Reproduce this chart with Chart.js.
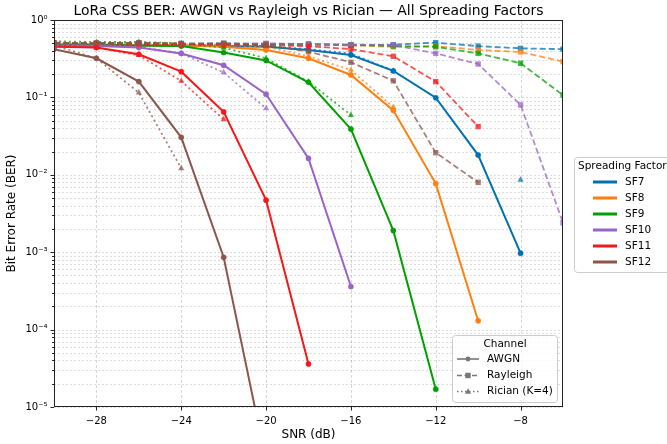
<!DOCTYPE html>
<html><head><meta charset="utf-8">
<script src="https://cdn.jsdelivr.net/npm/chart.js@4.4.1/dist/chart.umd.min.js"></script>
<style>html,body{margin:0;padding:0;background:#fff;} #wrap{width:667px;height:444px;position:relative;}</style>
</head><body><div id="wrap"><canvas id="c" width="667" height="444"></canvas></div>
<script>
// ---- data ----
const snr = [-30,-28,-26,-24,-22,-20,-18,-16,-14,-12,-10,-8,-6];
const sfNames = ['SF7','SF8','SF9','SF10','SF11','SF12'];
const channelNames = ['AWGN','Rayleigh','Rician (K=4)'];
const xTickValues = [-28,-24,-20,-16,-12,-8];
const yDecades = [-5,-4,-3,-2,-1,0];

const awgnSF7  = [0.48,0.48,0.47,0.47,0.46,0.45,0.41,0.353,0.22,0.099,0.018,0.00097,null];
const awgnSF8  = [0.48,0.48,0.47,0.47,0.45,0.41,0.32,0.195,0.068,0.0077,0.00013,null,null];
const awgnSF9  = [0.48,0.48,0.47,0.46,0.38,0.30,0.157,0.039,0.0019,0.000017,null,null,null];
const awgnSF10 = [0.47,0.46,0.44,0.37,0.26,0.11,0.0163,0.00036,null,null,null,null,null];
const awgnSF11 = [0.45,0.44,0.36,0.215,0.065,0.0047,0.000036,null,null,null,null,null,null];
const awgnSF12 = [0.42,0.32,0.16,0.0305,0.00086,0.000002,null,null,null,null,null,null,null];

const rayleighSF7  = [0.49,0.50,0.50,0.49,0.50,0.49,0.49,0.47,0.48,0.51,0.46,0.43,0.42];
const rayleighSF8  = [0.50,0.49,0.49,0.49,0.48,0.49,0.48,0.47,0.45,0.46,0.41,0.386,0.29];
const rayleighSF9  = [0.51,0.50,0.50,0.49,0.49,0.49,0.48,0.48,0.46,0.45,0.37,0.276,0.107];
const rayleighSF10 = [0.49,0.49,0.50,0.49,0.49,0.50,0.49,0.48,0.475,0.37,0.27,0.08,0.0024];
const rayleighSF11 = [0.50,0.50,0.49,0.48,0.48,0.47,0.46,0.42,0.34,0.16,0.042,null,null];
const rayleighSF12 = [0.50,0.50,0.51,0.50,0.50,0.475,0.39,0.284,0.164,0.0193,0.008,null,null];

const ricianSF7  = [0.50,0.49,0.48,0.48,0.47,0.46,0.42,0.37,0.22,null,null,0.0086,null];
const ricianSF8  = [0.50,0.49,0.48,0.48,0.47,0.45,0.34,0.226,0.075,null,null,null,null];
const ricianSF9  = [0.53,0.52,0.52,0.50,0.44,0.32,0.16,0.059,null,null,null,null,null];
const ricianSF10 = [0.50,0.49,0.45,0.37,0.21,0.072,null,null,null,null,null,null,null];
const ricianSF11 = [0.47,0.44,0.35,0.163,0.052,null,null,null,null,null,null,null,null];
const ricianSF12 = [0.47,0.32,0.115,0.0121,null,null,null,null,null,null,null,null,null];

// ---- styling ----
const FONT = '"DejaVu Sans", sans-serif';
const sfColors = ['#0072B2','#FF7F0E','#00A000','#9B62C8','#F51818','#8C564B'];
function rgba(hex,a){const n=parseInt(hex.slice(1),16);return `rgba(${n>>16&255},${n>>8&255},${n&255},${a})`;}

const awgnAll = [awgnSF7,awgnSF8,awgnSF9,awgnSF10,awgnSF11,awgnSF12];
const rayAll  = [rayleighSF7,rayleighSF8,rayleighSF9,rayleighSF10,rayleighSF11,rayleighSF12];
const ricAll  = [ricianSF7,ricianSF8,ricianSF9,ricianSF10,ricianSF11,ricianSF12];

function pts(arr){return snr.map((x,i)=>({x:x,y:arr[i]}));}

const datasets = [];
let k = 0;
sfNames.forEach((name,i)=>{
  const c = sfColors[i];
  datasets.push({label:name+' AWGN',data:pts(awgnAll[i]),borderColor:c,backgroundColor:c,borderWidth:2,
    pointStyle:'circle',pointRadius:2.6,pointBorderWidth:0.5,pointBorderColor:c,pointBackgroundColor:c,order:-(k++)});
  const cd = rgba(c,0.75);
  datasets.push({label:name+' Rayleigh',data:pts(rayAll[i]),borderColor:cd,backgroundColor:cd,borderWidth:1.8,borderDash:[6,3],
    pointStyle:'rect',pointRadius:3.8,pointBorderWidth:0,pointBackgroundColor:cd,order:-(k++)});
  const cr = rgba(c,0.75);
  datasets.push({label:name+' Rician',data:pts(ricAll[i]),borderColor:cr,backgroundColor:cr,borderWidth:1.8,borderDash:[2,3],
    pointStyle:'triangle',pointRadius:3.6,pointBorderWidth:0,pointBackgroundColor:cr,order:-(k++)});
});

const SUP = {'0':'⁰','1':'¹','2':'²','3':'³','4':'⁴','5':'⁵','6':'⁶','7':'⁷','8':'⁸','9':'⁹','-':'⁻'};
function supStr(n){return String(n).split('').map(ch=>SUP[ch]).join('');}

const deco = {
  id:'deco',
  beforeDatasetsDraw(chart){
    const {ctx, chartArea:a, scales:{x,y}} = chart;
    ctx.save();
    ctx.lineWidth = 0.8;
    ctx.strokeStyle = 'rgba(0,0,0,0.17)';
    ctx.setLineDash([2,2]);
    yDecades.forEach(e=>{
      for(let m=1;m<=9;m++){
        const v = m*Math.pow(10,e);
        if (v>1.0000001) break;
        const py = Math.round(y.getPixelForValue(v))+0.5;
        ctx.beginPath(); ctx.moveTo(a.left,py); ctx.lineTo(a.right,py); ctx.stroke();
      }
    });
    ctx.strokeStyle = 'rgba(0,0,0,0.2)';
    ctx.setLineDash([3,2]);
    xTickValues.forEach(v=>{
      const px = Math.round(x.getPixelForValue(v))+0.5;
      ctx.beginPath(); ctx.moveTo(px,a.top); ctx.lineTo(px,a.bottom); ctx.stroke();
    });
    ctx.restore();
  },
  afterDraw(chart){
    const {ctx, chartArea:a, scales:{x,y}} = chart;
    ctx.save();
    ctx.strokeStyle = '#222'; ctx.lineWidth = 1; ctx.setLineDash([]);
    ctx.strokeRect(Math.round(a.left)+0.5, Math.round(a.top)+0.5, Math.round(a.right-a.left)-1, Math.round(a.bottom-a.top)-1);
    ctx.beginPath();
    xTickValues.forEach(v=>{
      const px = Math.round(x.getPixelForValue(v))+0.5;
      ctx.moveTo(px,a.bottom); ctx.lineTo(px,a.bottom+3.5);
    });
    yDecades.forEach(e=>{
      for(let m=1;m<=9;m++){
        const v = m*Math.pow(10,e);
        if (v>1.0000001) break;
        const py = Math.round(y.getPixelForValue(v))+0.5;
        ctx.moveTo(a.left,py); ctx.lineTo(a.left-(m===1?3.5:2),py);
      }
    });
    ctx.stroke();

    ctx.fillStyle = '#000';
    ctx.font = '13.9px ' + FONT;
    ctx.textAlign = 'center'; ctx.textBaseline = 'middle';
    ctx.fillText('LoRa CSS BER: AWGN vs Rayleigh vs Rician — All Spreading Factors', (a.left+a.right)/2, 11);

    ctx.fillStyle = 'rgba(255,255,255,0.8)'; ctx.strokeStyle = '#cccccc'; ctx.lineWidth = 1;
    ctx.beginPath(); ctx.roundRect(574.5,157.5,100,115,3); ctx.fill(); ctx.stroke();
    ctx.fillStyle = '#000'; ctx.font = '10.5px ' + FONT; ctx.textAlign = 'left';
    ctx.fillText('Spreading Factor', 578, 166);
    sfNames.forEach((n,i)=>{
      const yy = 182 + 16*i;
      ctx.strokeStyle = sfColors[i]; ctx.lineWidth = 3;
      ctx.beginPath(); ctx.moveTo(593,yy); ctx.lineTo(617,yy); ctx.stroke();
      ctx.fillStyle = '#000'; ctx.fillText(n, 625, yy);
    });

    ctx.fillStyle = 'rgba(255,255,255,0.8)'; ctx.strokeStyle = '#cccccc'; ctx.lineWidth = 1;
    ctx.beginPath(); ctx.roundRect(452.5,335.5,105,67,3); ctx.fill(); ctx.stroke();
    ctx.fillStyle = '#000'; ctx.textAlign = 'center';
    ctx.fillText('Channel', 505, 344);
    ctx.textAlign = 'left';
    const dashes = [[],[5,2.5],[1.5,2.5]];
    const rows = [359,375.5,391.5];
    channelNames.forEach((n,i)=>{
      const yy = rows[i];
      ctx.strokeStyle = '#777'; ctx.lineWidth = 1.6; ctx.setLineDash(dashes[i]);
      ctx.beginPath(); ctx.moveTo(457,yy); ctx.lineTo(479,yy); ctx.stroke();
      ctx.setLineDash([]);
      ctx.fillStyle = '#777';
      ctx.beginPath();
      if (i===0){ ctx.arc(468,yy,2.4,0,Math.PI*2); }
      else if (i===1){ ctx.rect(465.3,yy-2.7,5.4,5.4); }
      else { ctx.moveTo(468,yy-3.2); ctx.lineTo(471,yy+2.2); ctx.lineTo(465,yy+2.2); ctx.closePath(); }
      ctx.fill();
      ctx.fillStyle = '#000';
      ctx.fillText(n, 487, yy);
    });
    ctx.restore();
  }
};

new Chart(document.getElementById('c'), {
  type:'line',
  data:{datasets:datasets},
  options:{
    responsive:false, devicePixelRatio:1, animation:false,
    layout:{padding:{top:20,right:104,left:0,bottom:0}},
    plugins:{legend:{display:false}, title:{display:false}, tooltip:{enabled:false}},
    elements:{line:{tension:0, borderCapStyle:'butt'}},
    scales:{
      x:{type:'linear', min:-30, max:-6,
        afterFit(s){s.height = 37;},
        afterBuildTicks(s){s.ticks = xTickValues.map(v=>({value:v}));},
        grid:{display:false, drawTicks:false},
        border:{display:false},
        ticks:{padding:8, maxRotation:0, autoSkip:false, color:'#000', font:{family:FONT,size:10},
          callback:(v)=>String(v).replace('-','\u2212')},
        title:{display:true, text:'SNR (dB)', color:'#000', font:{family:FONT,size:12}, padding:{top:0,bottom:1.8}}
      },
      y:{type:'logarithmic', min:1e-5, max:1,
        afterFit(s){s.width = 54;},
        grid:{display:false, drawTicks:false},
        border:{display:false},
        ticks:{padding:6.5, autoSkip:false, color:'#000', font:{family:FONT,size:10},
          callback:(v)=>{const l=Math.log10(v); const r=Math.round(l); return Math.abs(l-r)<1e-6 ? '10'+supStr(r) : '';}},
        title:{display:true, text:'Bit Error Rate (BER)', color:'#000', font:{family:FONT,size:12}, padding:{top:4.8,bottom:0}}
      }
    }
  },
  plugins:[deco]
});
</script>
</body></html>
